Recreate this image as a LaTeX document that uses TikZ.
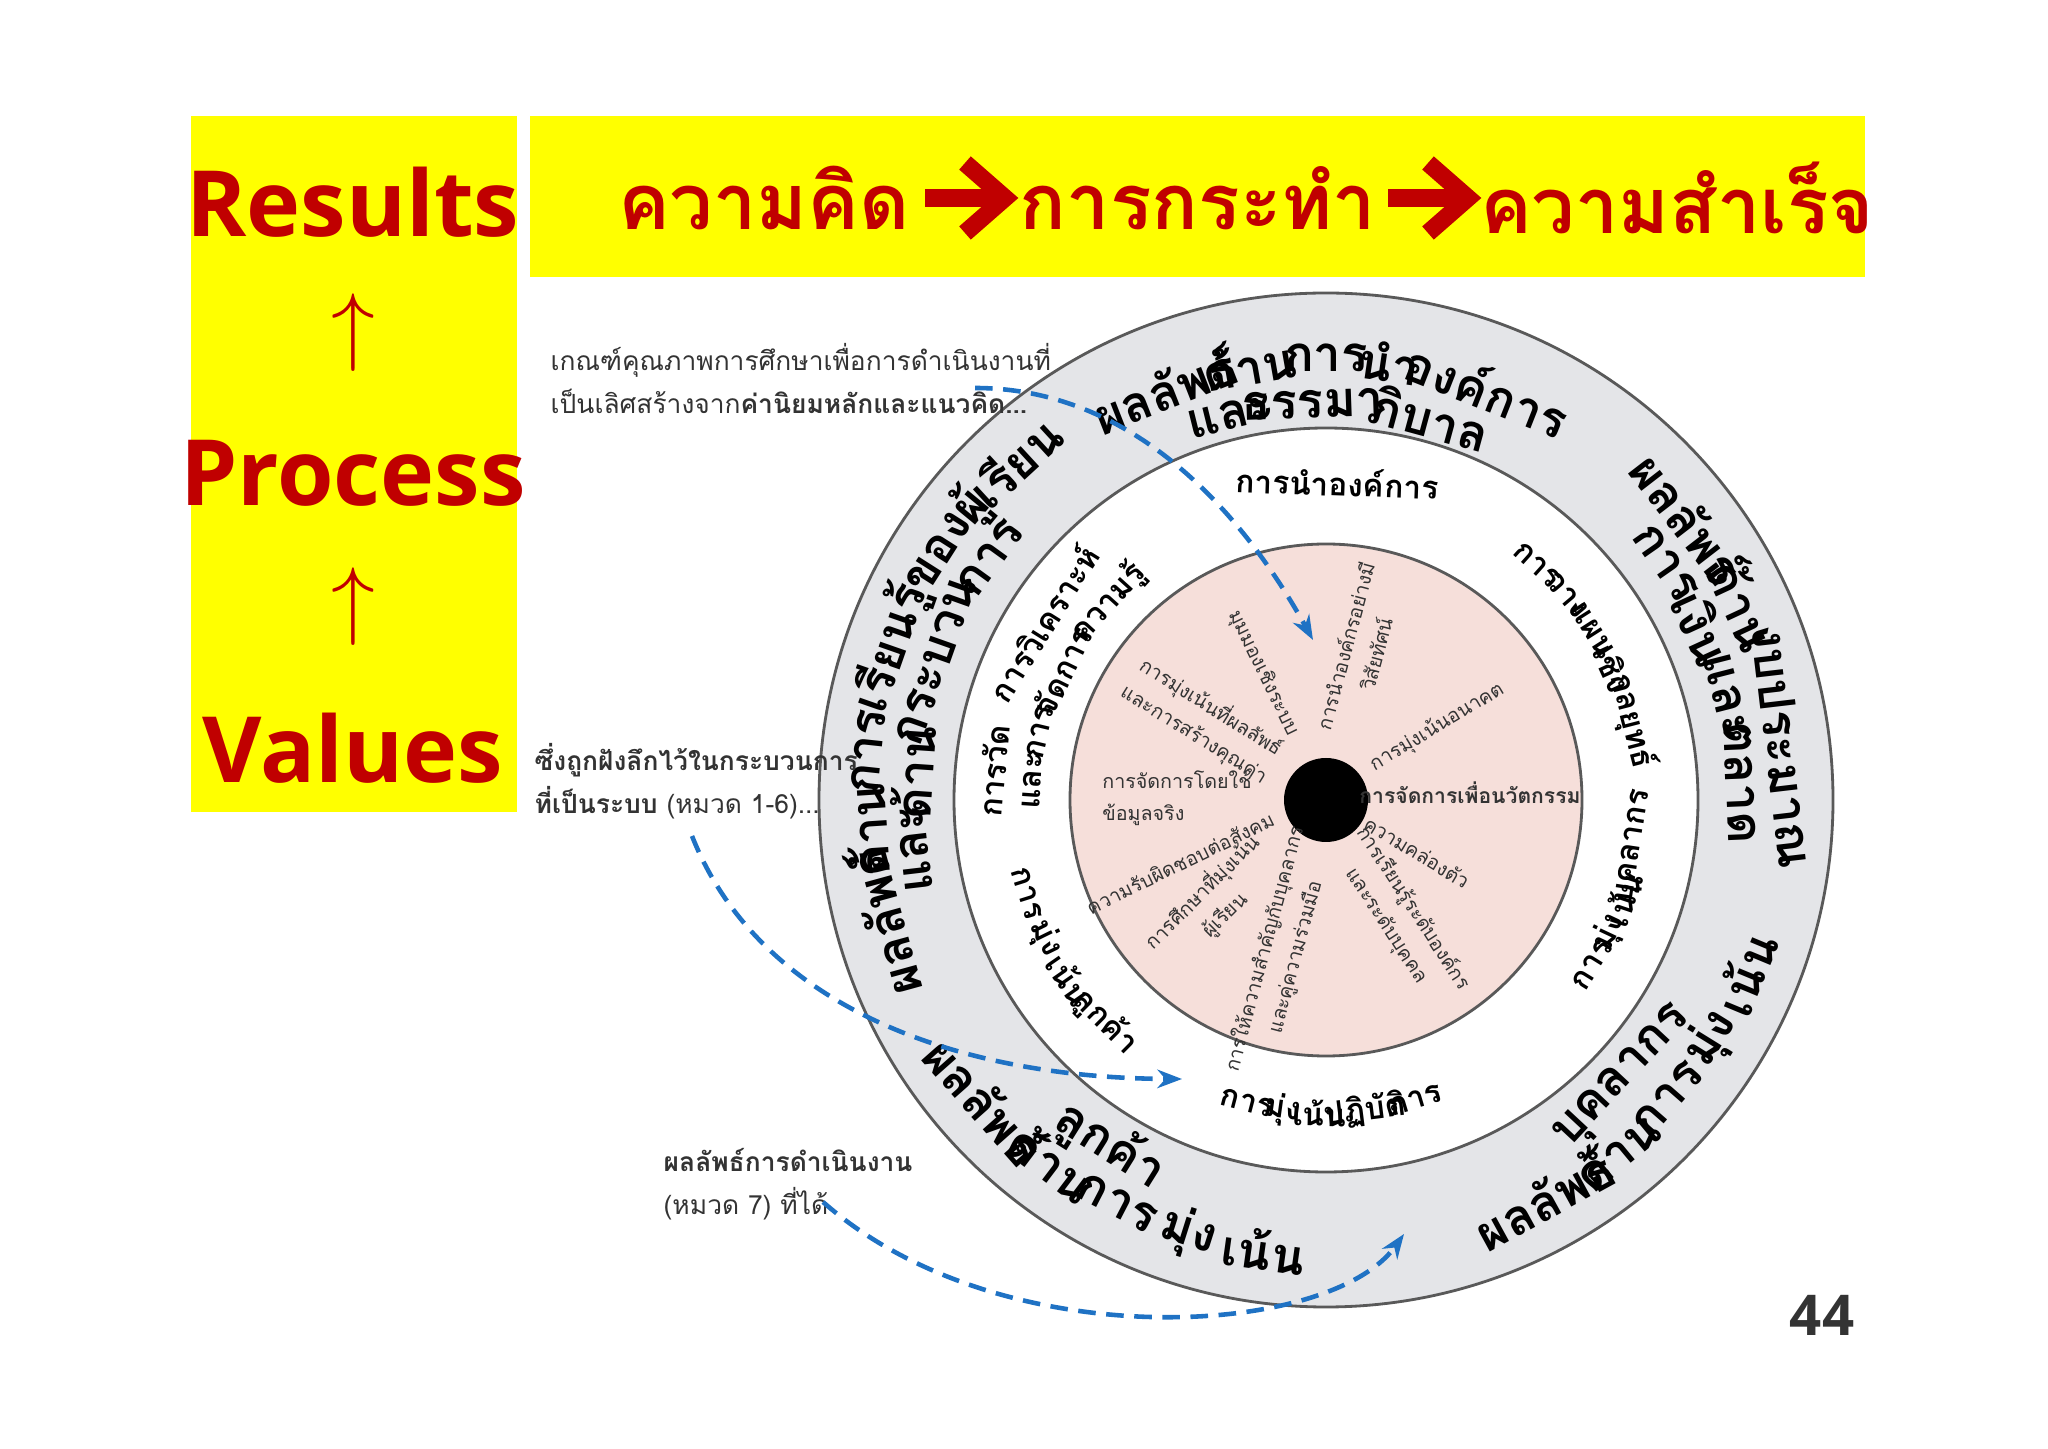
\documentclass[tikz,border=0pt]{standalone}
\usepackage{fontspec}
\setmainfont{Open Sans}
\newfontfamily\thai[Script=Thai]{Loma}
\usetikzlibrary{arrows.meta}
\definecolor{ylw}{HTML}{FFFF00}
\definecolor{dred}{HTML}{C00000}
\definecolor{ringg}{HTML}{E4E5E8}
\definecolor{pinkc}{HTML}{F6DFDA}
\definecolor{bl}{HTML}{1F72C4}
\definecolor{ann}{HTML}{333333}
\tikzset{
 big/.style={font=\fontsize{26}{30}\selectfont\bfseries, text=dred},
 ban/.style={font=\thai\fontsize{22}{26}\selectfont\bfseries, text=dred},
 annot/.style={font=\thai\fontsize{7.5}{12}\selectfont, text=ann, anchor=north west, align=left, inner sep=0},
 outt/.style={font=\thai\fontsize{14}{16}\selectfont\bfseries, inner sep=0},
 midt/.style={font=\thai\fontsize{9}{11}\selectfont\bfseries, inner sep=0},
 inn/.style={font=\thai\fontsize{5.6}{9}\selectfont, text=ann, align=center, inner sep=0},
 barrow/.style={bl, dashed, line width=1.3pt, dash pattern=on 5pt off 3pt, -{Stealth[length=7pt]}},
}
\begin{document}
\begin{tikzpicture}[x=0.01cm,y=0.01cm]
\useasboundingbox (0,0) rectangle (2048,1448);
\fill[white] (0,0) rectangle (2048,1448);
% yellow boxes
\fill[ylw] (191,636) rectangle (517,1332);
\fill[ylw] (530,1171) rectangle (1865,1332);
\node[big] (res) at (353,1246) {Results};
\node[big] (u1) at (353,1115) {$\uparrow$};
\node[big] (pro) at (353,975) {Process};
\node[big] (u2) at (353,841) {$\uparrow$};
\node[big] (val) at (353,700) {Values};
\node[ban] (k1) at (764,1250) {ความคิด};
\node[ban] (k2) at (1198,1250) {การกระทำ};
\node[ban] (k3) at (1677,1250) {ความสำเร็จ};
\draw[dred, line width=5pt] (925,1250) -- (1005,1250);
\draw[dred, line width=5pt] (965,1285) -- (1005,1250) -- (965,1215);
\draw[dred, line width=5pt] (1388,1250) -- (1468,1250);
\draw[dred, line width=5pt] (1428,1285) -- (1468,1250) -- (1428,1215);
% circles
\coordinate (C) at (1326,648);
\fill[ringg, draw=gray!70!black, line width=0.8pt] (C) circle (507);
\fill[white, draw=gray!70!black, line width=0.8pt] (C) circle (372);
\fill[pinkc, draw=gray!70!black, line width=0.8pt] (C) circle (256);
\fill[black] (C) circle (42);
\begin{scope}[shift={(1326,648)}]
% outer ring, clockwise reading
\foreach \a/\t in {111.4/ผลลัพธ์,100/ด้าน,90/การ,81.7/นำ,68.5/องค์การ}
  \node[outt, rotate=\a-90] at (\a:442) {\t};
\foreach \a/\t in {103.9/และ,92/ธรรมา,74.8/ภิบาล}
  \node[outt, rotate=\a-90] at (\a:396) {\t};
\foreach \a/\t in {195.4/ผลลัพธ์,183.8/ด้าน,173.9/การ,160.7/เรียนรู้,147.5/ของ,140.5/ผู้,132.6/เรียน}
  \node[outt, rotate=\a-90] at (\a:460) {\t};
\foreach \a/\t in {186.7/และ,176.2/ด้าน,160.5/กระบวน,144.2/การ}
  \node[outt, rotate=\a-90] at (\a:414) {\t};
\foreach \a/\t in {37.7/ผลลัพธ์,25/ด้าน,6.7/งบประมาณ}
  \node[outt, rotate=\a-90] at (\a:460) {\t};
\foreach \a/\t in {34.9/การ,24.6/เงิน,14.4/และ,2.4/ตลาด}
  \node[outt, rotate=\a-90] at (\a:414) {\t};
% outer ring bottom, counter-clockwise reading
\foreach \a/\t in {221.5/ผลลัพธ์,232.9/ด้าน,242.6/การ,252.4/มุ่ง,262.1/เน้น}
  \node[outt, rotate=\a+90] at (\a:454) {\t};
\node[outt, rotate=238+90] at (238:408) {ลูกค้า};
\foreach \a/\t in {298.7/ผลลัพธ์,309.6/ด้าน,318.9/การ,328.2/มุ่ง,337.5/เน้น}
  \node[outt, rotate=\a+90] at (\a:454) {\t};
\node[outt, rotate=317+90] at (317:408) {บุคลากร};
% middle ring
\node[midt, rotate=-2] at (88:318) {การนำองค์การ};
\foreach \a/\t in {48.1/การ,40.3/วาง,32.5/แผน,24.7/เชิง,14.5/กลยุทธ์}
  \node[midt, rotate=\a-90] at (\a:316) {\t};
\foreach \a/\t in {175/การวัด,148/การวิเคราะห์}
  \node[midt, rotate=\a-90] at (\a:334) {\t};
\foreach \a/\t in {176.2/และ,166.6/การ,153.9/จัดการ,137.9/ความรู้}
  \node[midt, rotate=\a-90] at (\a:294) {\t};
\foreach \a/\t in {197.4/การ,206.2/มุ่ง,214.9/เน้น,225.2/ลูกค้า}
  \node[midt, rotate=\a+90] at (\a:313) {\t};
\foreach \a/\t in {255.4/การ,262.1/มุ่ง,268.8/เน้น,277.2/ปฏิบัติ,286.6/การ}
  \node[midt, rotate=\a+90] at (\a:313) {\t};
\foreach \a/\t in {328.3/การ,334.9/มุ่ง,341.5/เน้น,351.4/บุคลากร}
  \node[midt, rotate=\a+90] at (\a:313) {\t};
\end{scope}
% inner spokes
\node[inn, rotate=-64] (i1) at (1263,775) {มุมมองเชิงระบบ};
\node[inn, rotate=75] (i2) at (1360,798) {การนำองค์กรอย่างมี\\วิสัยทัศน์};
\node[inn, rotate=31] (i3) at (1437,721) {การมุ่งเน้นอนาคต};
\node[inn, font=\thai\fontsize{6}{9}\selectfont\bfseries] (i4) at (1470,655) {การจัดการเพื่อนวัตกรรม};
\node[inn, rotate=-31] (i5) at (1417,596) {ความคล่องตัว};
\node[inn, rotate=-57] (i6) at (1400,531) {การเรียนรู้ระดับองค์กร\\และระดับบุคคล};
\node[inn, rotate=75] (i7) at (1280,495) {การให้ความสำคัญกับบุคลากร\\และคู่ความร่วมมือ};
\node[inn, rotate=45] (i8) at (1213,545) {การศึกษาที่มุ่งเน้น\\ผู้เรียน};
\node[inn, rotate=26] (i9) at (1180,585) {ความรับผิดชอบต่อสังคม};
\node[inn, align=left] (i10) at (1177,650) {การจัดการโดยใช้\\ข้อมูลจริง};
\node[inn, rotate=-32] (i11) at (1203,728) {การมุ่งเน้นที่ผลลัพธ์\\และการสร้างคุณค่า};
% annotations
\node[annot] (a1) at (550,1105) {เกณฑ์คุณภาพการศึกษาเพื่อการดำเนินงานที่\\เป็นเลิศสร้างจาก\textbf{ค่านิยมหลักและแนวคิด...}};
\node[annot] (a2) at (534,705) {\textbf{ซึ่งถูกฝังลึกไว้ในกระบวนการ}\\\textbf{ที่เป็นระบบ} (หมวด 1-6)...};
\node[annot] (a3) at (663,300) {\textbf{ผลลัพธ์การดำเนินงาน}\\(หมวด 7) ที่ได้};
\coordinate (s1) at (975,1060);
\coordinate (e1) at (1313,808);
\coordinate (s2) at (692,612);
\coordinate (e2) at (1182,369);
\coordinate (s3) at (823,246);
\coordinate (e3) at (1404,214);
\draw[barrow] (s1) .. controls (1130,1060) and (1240,940) .. (e1);
\draw[barrow] (s2) .. controls (760,440) and (960,370) .. (e2);
\draw[barrow] (s3) .. controls (1000,90) and (1330,110) .. (e3);
\node[font=\fontsize{16}{18}\selectfont\bfseries, text=ann] (pg) at (1822,133) {44};
\end{tikzpicture}
\end{document}
